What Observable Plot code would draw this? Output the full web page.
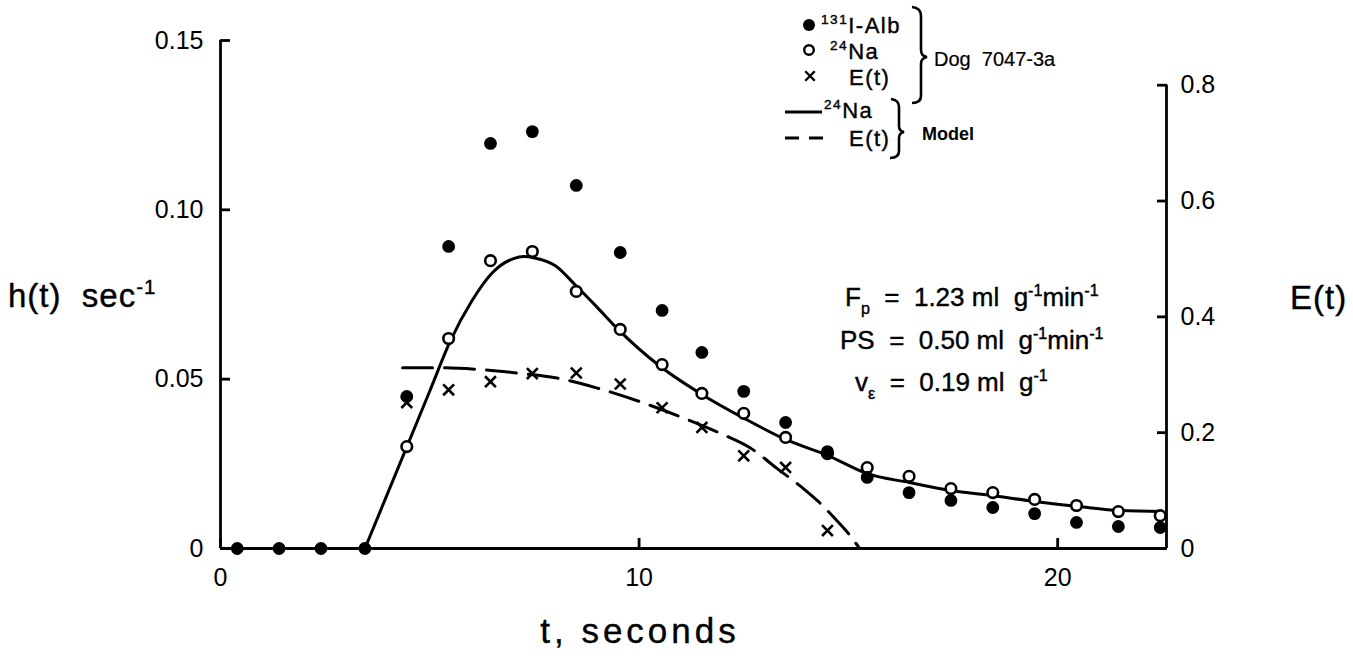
<!DOCTYPE html>
<html><head><meta charset="utf-8">
<script src="https://cdn.jsdelivr.net/npm/d3@7"></script>
<script src="https://cdn.jsdelivr.net/npm/@observablehq/plot@0.6"></script>
<style>body{margin:0;background:#fff} svg{display:block}</style>
</head><body><div id="chart"></div>
<script>
// sample times (seconds)
const sampleT = [0.4,1.4,2.4,3.45,4.45,5.45,6.45,7.45,8.5,9.55,10.55,11.5,12.5,13.5,14.5,15.45,16.45,17.45,18.45,19.45,20.45,21.45,22.45];
// 131I-Alb, h(t) sec^-1
const albH = [0,0,0,0,0.0449,0.0892,0.1196,0.1231,0.1072,0.0874,0.0703,0.0579,0.0464,0.0372,0.0286,0.021,0.0165,0.0142,0.0121,0.0103,0.0077,0.0065,0.0062];
// 24Na, h(t) sec^-1 (from t index 4 on)
const naT = sampleT.slice(4);
const naH = [0.0301,0.062,0.085,0.0877,0.0759,0.0647,0.0543,0.0458,0.0399,0.0328,0.028,0.0239,0.0213,0.0177,0.0165,0.0145,0.0127,0.0109,0.0097];
// E(t) measured (right axis)
const eT = sampleT.slice(4, 15);
const eVal = [0.252,0.274,0.288,0.302,0.303,0.284,0.243,0.209,0.160,0.140,0.031];
// Model 24Na curve
const naModelT = [3.45,4.45,5.0,5.5,6.0,6.5,7.0,7.25,7.5,8.0,8.5,9.0,9.5,10.5,11.5,12.5,13.5,14.5,15.45,16.45,17.45,18.45,19.45,20.5,21.5,22.5];
const naModelH = [0,0.030,0.0465,0.0615,0.073,0.0815,0.0856,0.0862,0.0858,0.0835,0.0775,0.0712,0.0647,0.0538,0.0455,0.0385,0.0322,0.0275,0.0221,0.0195,0.0171,0.0156,0.0139,0.0124,0.0112,0.0109];
// Model E(t) curve
const eModelT = [4.35,5.2,6.2,7.2,8.0,9.0,10.0,11.0,12.0,12.65,13.3,13.9,14.3,14.7,15.0,15.27];
const eModelV = [0.312,0.312,0.309,0.302,0.295,0.277,0.254,0.227,0.197,0.174,0.138,0.105,0.080,0.050,0.026,0];
// axes
const xTicks = [0,10,20];
const hTicks = [0,0.05,0.10,0.15];
const hTickLabels = ["0","0.05","0.10","0.15"];
const eTicks = [0,0.2,0.4,0.6,0.8];
const eTickLabels = ["0","0.2","0.4","0.6","0.8"];
const xMax = 22.6;
const k = 0.171; // h-units per E-unit (right axis mapping)

const alb = sampleT.map((t,i)=>({t, h: albH[i]}));
const na = naT.map((t,i)=>({t, h: naH[i]}));
const eData = eT.map((t,i)=>({t, h: eVal[i]*k}));
const naModel = naModelT.map((t,i)=>({t, h: naModelH[i]}));
const eModel = eModelT.map((t,i)=>({t, h: eModelV[i]*k}));

const FONT = "Liberation Sans";
const SW = 2.8;

const plot = Plot.plot({
  width: 1353, height: 658,
  marginLeft: 220, marginRight: 187, marginTop: 40, marginBottom: 110,
  x: {domain: [0, xMax]},
  y: {domain: [0, 0.15]},
  style: {fontFamily: FONT, fontSize: "25px", color: "#000", background: "#fff"},
  marks: [
    Plot.ruleX([0], {stroke: "#000", strokeWidth: SW}),
    Plot.ruleY([0], {stroke: "#000", strokeWidth: SW}),
    Plot.ruleX([xMax], {y1: 0, y2: eTicks[eTicks.length-1]*k, stroke: "#000", strokeWidth: SW}),
    Plot.axisY(hTicks, {anchor: "left", tickSize: 10, dx: 10, tickPadding: 17, strokeWidth: SW,
      tickFormat: (d) => hTickLabels[hTicks.indexOf(d)], label: null}),
    Plot.axisY(eTicks.map(e => e*k), {anchor: "right", tickSize: 10, dx: -10, tickPadding: 14, strokeWidth: SW,
      tickFormat: (d) => eTickLabels[eTicks.findIndex(e => Math.abs(e*k - d) < 1e-9)], label: null}),
    Plot.axisX(xTicks, {anchor: "bottom", tickSize: 10, dy: -10, tickPadding: 20, strokeWidth: SW,
      tickFormat: (d) => String(d), label: null}),
    Plot.line(naModel, {x: "t", y: "h", curve: "monotone-x", stroke: "#000", strokeWidth: 3}),
    Plot.line(eModel, {x: "t", y: "h", curve: "monotone-x", stroke: "#000", strokeWidth: 3, strokeDasharray: "30 12"}),
    Plot.dot(na, {x: "t", y: "h", r: 5.3, stroke: "#000", strokeWidth: 2.6, fill: "#fff"}),
    Plot.dot(alb, {x: "t", y: "h", r: 6.4, fill: "#000", stroke: "none"}),
    Plot.dot(eData, {x: "t", y: "h", symbol: "times", r: 5, stroke: "#000", strokeWidth: 2.6})
  ]
});
document.getElementById("chart").appendChild(plot);

const svg = d3.select(plot);
function rich(x, y, parts, o = {}) {
  const size = o.size || 24;
  const t = svg.append("text").attr("x", x).attr("y", y)
    .attr("font-family", o.family || FONT).attr("font-size", size)
    .attr("text-anchor", o.anchor || "start").attr("font-weight", o.weight || "normal")
    .attr("letter-spacing", o.ls || 0).attr("fill", "#000")
    .attr("stroke", "#000").attr("stroke-width", o.sw == null ? 0.4 : o.sw);
  let shift = 0;
  for (const [s, kind] of parts) {
    const target = kind === "sup" ? -size * 0.4 : kind === "sub" ? size * 0.3 : 0;
    t.append("tspan").attr("dy", target - shift).attr("font-size", kind ? size * 0.62 : size).text(s);
    shift = target;
  }
  return t;
}

// axis titles
rich(8, 307, [["h(t)  sec",""],["-1","sup"]], {size: 33, ls: 1});
rich(1290, 309, [["E(t)",""]], {size: 33, ls: 1});
rich(640, 643, [["t, seconds",""]], {size: 35, anchor: "middle", ls: 4});

// parameter annotations
rich(845, 306, [["F",""],["p","sub"],["  =  1.23 ml  g",""],["-1","sup"],["min",""],["-1","sup"]], {size: 26});
rich(840, 349, [["PS  =  0.50 ml  g",""],["-1","sup"],["min",""],["-1","sup"]], {size: 26});
rich(855, 391, [["v",""],["ε","sub"],["  =  0.19 ml  g",""],["-1","sup"]], {size: 26});

// legend
const g = svg.append("g").attr("stroke", "#000").attr("fill", "none").attr("stroke-width", 2.6);
svg.append("circle").attr("cx", 809).attr("cy", 25).attr("r", 6).attr("fill", "#000");
svg.append("circle").attr("cx", 809).attr("cy", 50).attr("r", 4.8).attr("fill", "#fff").attr("stroke", "#000").attr("stroke-width", 2.4);
svg.append("path").attr("d", d3.symbol(d3.symbolTimes, 60)()).attr("transform", "translate(810,76)").attr("stroke", "#000").attr("stroke-width", 2.4).attr("fill", "none");
rich(821, 33, [["131","sup"],["I-Alb",""]], {size: 22, ls: 1.5});
rich(830, 59, [["24","sup"],["Na",""]], {size: 22, ls: 1.5});
rich(849, 85, [["E(t)",""]], {size: 22, ls: 1.5});
g.append("path").attr("d", "M912,7 Q921,8 921,16 L921,50 Q921,56 927,57 Q921,58 921,64 L921,96 Q921,103 912,103");
rich(934, 66, [["Dog  7047-3a",""]], {size: 20, sw: 0.2});
g.append("line").attr("x1", 785).attr("x2", 822).attr("y1", 112).attr("y2", 112).attr("stroke-width", 3);
rich(824, 118, [["24","sup"],["Na",""]], {size: 22, ls: 1.5});
g.append("line").attr("x1", 785).attr("x2", 825).attr("y1", 138).attr("y2", 138).attr("stroke-width", 3).attr("stroke-dasharray", "14 10");
rich(849, 146, [["E(t)",""]], {size: 22, ls: 1.5});
g.append("path").attr("d", "M891,99 Q899,100 899,107 L899,126 Q899,131 904,132 Q899,133 899,138 L899,151 Q899,158 890,158");
rich(922, 140, [["Model",""]], {size: 18, weight: "bold", sw: 0});
</script>
</body></html>
